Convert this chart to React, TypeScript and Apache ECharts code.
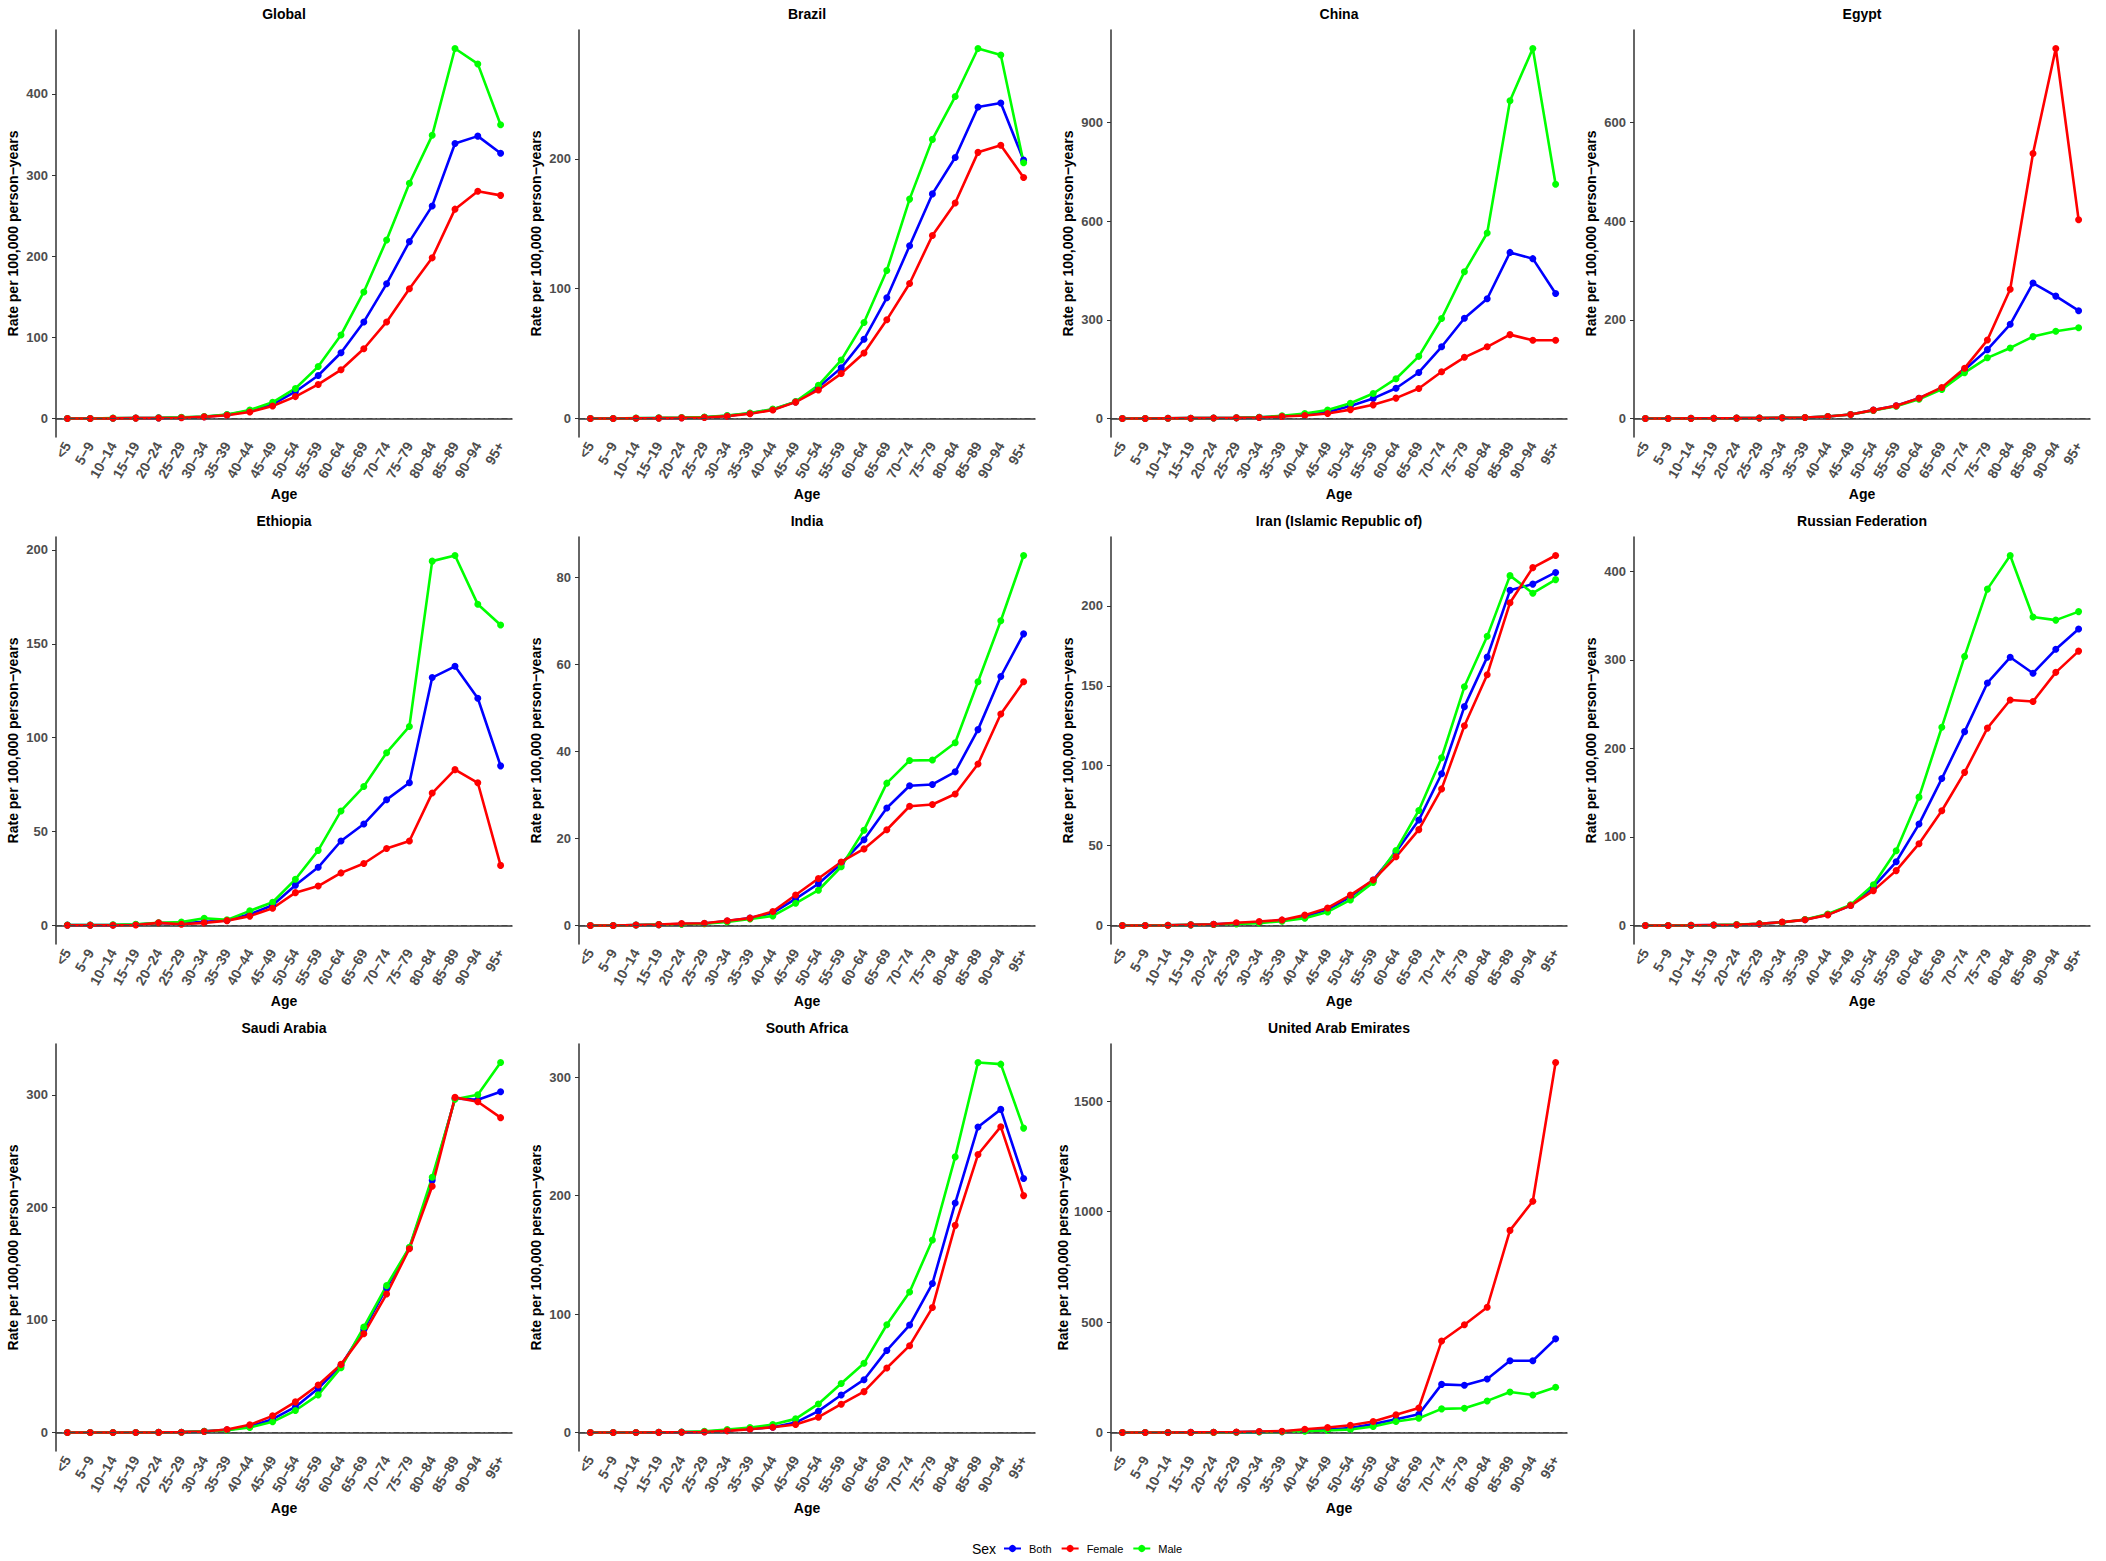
import { useEffect, useRef } from "react";
import * as echarts from "echarts";

const ageGroups = [
  "<5", "5-9", "10-14", "15-19", "20-24", "25-29", "30-34", "35-39", "40-44", "45-49",
  "50-54", "55-59", "60-64", "65-69", "70-74", "75-79", "80-84", "85-89", "90-94", "95+",
];

// Global
const globalBoth = [0, 0, 0.3, 0.6, 0.8, 1.2, 2.2, 4.5, 9.5, 17.5, 33, 53, 81, 119, 166, 218, 262, 339, 348, 327];
const globalFemale = [0, 0, 0.2, 0.5, 0.7, 1, 2, 4, 8, 15.5, 27, 42, 60, 86, 119, 160, 198, 258, 280, 275];
const globalMale = [0, 0, 0.5, 0.7, 1, 1.5, 2.5, 5, 10.5, 20, 37, 64, 103, 156, 220, 290, 349, 456, 437, 362];
const globalTicks = [0, 100, 200, 300, 400];

// Brazil
const brazilBoth = [0, 0, 0.2, 0.4, 0.6, 1, 2, 4, 7, 12.8, 24, 39, 61, 93, 133, 173, 201, 240, 243, 199];
const brazilFemale = [0, 0, 0.2, 0.3, 0.5, 0.8, 1.8, 3.6, 6.5, 12.6, 22, 34.6, 50.5, 76, 104, 141, 166, 205, 210.5, 185.6];
const brazilMale = [0, 0, 0.3, 0.5, 0.8, 1.2, 2.2, 4.2, 7.2, 13, 25.6, 45, 74, 114, 169, 215, 248, 285, 280, 197];
const brazilTicks = [0, 100, 200];

// China
const chinaBoth = [0, 0, 0.5, 1, 1.5, 2, 3.5, 7, 12, 20, 38, 61, 92, 140, 218, 305, 364, 505, 486, 380];
const chinaFemale = [0, 0, 0.5, 1, 1.5, 2, 3, 6, 9, 15, 27, 41.5, 62, 91, 142, 186, 218, 255, 238, 238];
const chinaMale = [0, 0, 0.5, 1, 1.5, 2, 4, 8, 15, 26, 46.5, 76, 121, 189, 304, 446, 564, 966, 1125, 712];
const chinaTicks = [0, 300, 600, 900];

// Egypt
const egyptBoth = [0, 0, 0.3, 0.5, 0.7, 1, 1.5, 2, 4, 8, 17, 26, 41, 61, 99, 139.6, 191, 274.5, 248, 218.5];
const egyptFemale = [0, 0, 0.3, 0.5, 0.7, 1, 1.5, 2, 4, 8, 17, 26, 41, 63, 102, 159, 262, 537, 750, 403];
const egyptMale = [0, 0, 0.3, 0.5, 0.7, 1, 1.5, 2, 4, 8, 16.5, 25, 39, 59, 93, 123, 143, 166, 177, 184];
const egyptTicks = [0, 200, 400, 600];

// Ethiopia
const ethiopiaBoth = [0.2, 0.2, 0.3, 0.5, 1.3, 1.2, 2, 2.7, 6, 10.8, 21.4, 31, 45, 54, 67, 76, 132, 138, 121, 85];
const ethiopiaFemale = [0.1, 0.1, 0.1, 0.3, 1.4, 0.7, 1.4, 2.6, 5, 9.2, 17.5, 21, 28, 33, 41, 45, 70.5, 83, 76, 32];
const ethiopiaMale = [0.3, 0.3, 0.4, 0.6, 1.4, 1.8, 3.9, 3, 7.8, 12.4, 24.6, 40, 61, 74, 92, 106, 194, 197, 171, 160];
const ethiopiaTicks = [0, 50, 100, 150, 200];

// India
const indiaBoth = [0, 0, 0.1, 0.2, 0.35, 0.45, 1, 1.7, 2.9, 6.1, 9.6, 14.2, 19.7, 27, 32.1, 32.4, 35.3, 45, 57.2, 67];
const indiaFemale = [0, 0, 0.1, 0.2, 0.45, 0.5, 1.1, 1.7, 3.2, 7, 10.8, 14.6, 17.6, 22, 27.4, 27.8, 30.2, 37.1, 48.6, 56];
const indiaMale = [0, 0, 0.1, 0.2, 0.3, 0.4, 0.8, 1.5, 2.2, 5.1, 8.1, 13.5, 21.9, 32.7, 37.9, 38, 42, 56, 70, 85];
const indiaTicks = [0, 20, 40, 60, 80];

// Iran
const iranBoth = [0, 0, 0.2, 0.4, 0.7, 1.3, 2, 3.2, 5.6, 10, 18, 28.5, 46, 66, 95, 137, 168, 209.8, 213.7, 221];
const iranFemale = [0, 0, 0.2, 0.5, 0.8, 1.7, 2.5, 3.5, 6.5, 11, 19, 28.5, 43, 60, 85.5, 125, 157, 202, 224, 231.6];
const iranMale = [0, 0, 0.2, 0.4, 0.6, 1, 1.5, 2.7, 4.6, 8.5, 16, 27, 47, 72, 105, 149.4, 181, 219, 208, 216.5];
const iranTicks = [0, 50, 100, 150, 200];

// Russian Federation
const russiaBoth = [0, 0, 0.2, 0.5, 0.8, 1.8, 3.7, 6.5, 12.5, 22.5, 43.6, 72, 114.6, 166, 219, 274, 303, 285, 312, 335];
const russiaFemale = [0, 0, 0.2, 0.5, 0.8, 1.8, 3.8, 6.4, 12, 22.5, 39.4, 62, 92.4, 129.6, 173, 223, 254.7, 253, 286, 310];
const russiaMale = [0, 0, 0.3, 0.6, 1, 2, 3.5, 6.7, 13, 23.3, 46, 84.5, 145, 224, 304, 380, 418, 348.5, 345, 354.6];
const russiaTicks = [0, 100, 200, 300, 400];

// Saudi Arabia
const saudiBoth = [0, 0, 0, 0, 0.1, 0.3, 1, 2.3, 5.3, 11.8, 22.7, 39, 59.6, 91.5, 128.5, 164, 224, 296.8, 295.6, 302.7];
const saudiFemale = [0, 0, 0, 0, 0.1, 0.3, 0.9, 2.7, 6.8, 14.8, 27.2, 42.2, 60.5, 87.7, 123, 163.3, 218.8, 297.7, 293.8, 279.7];
const saudiMale = [0, 0, 0, 0, 0.1, 0.3, 1, 2, 4.4, 9.5, 19.5, 33.4, 57.6, 93.6, 130.5, 164.5, 226.8, 296, 300, 328.7];
const saudiTicks = [0, 100, 200, 300];

// South Africa
const southAfricaBoth = [0, 0, 0, 0.1, 0.3, 0.6, 1.8, 3, 4.5, 8.4, 18, 31.7, 44.6, 69.3, 90.7, 125.8, 193.7, 258, 272.8, 214.5];
const southAfricaFemale = [0, 0, 0, 0.1, 0.2, 0.4, 1.4, 2.8, 4.5, 6.7, 12.9, 23.9, 34.5, 54.5, 73.3, 105.5, 174.9, 234.7, 258.2, 200];
const southAfricaMale = [0, 0, 0, 0.2, 0.4, 1, 2.5, 4.2, 6.7, 11.5, 24.1, 41.3, 58.4, 91, 118.7, 162.5, 232.7, 312.4, 311, 257];
const southAfricaTicks = [0, 100, 200, 300];

// United Arab Emirates
const uaeBoth = [0, 0, 0, 0.5, 1, 1.5, 3, 4, 9, 13.5, 20, 38, 60, 83, 218, 213.6, 242, 325, 325, 424];
const uaeFemale = [0, 0, 0, 0.5, 1, 2, 4.5, 6, 15, 22.6, 33, 50, 80, 111, 414, 487.5, 567, 915, 1047, 1675];
const uaeMale = [0, 0, 0, 0.3, 0.5, 1, 2, 3, 6, 9, 13.5, 27, 49.7, 64.7, 107, 110, 143, 183.6, 170, 204.6];
const uaeTicks = [0, 500, 1000, 1500];

const panels = [
  { title: "Global", both: globalBoth, female: globalFemale, male: globalMale, ticks: globalTicks },
  { title: "Brazil", both: brazilBoth, female: brazilFemale, male: brazilMale, ticks: brazilTicks },
  { title: "China", both: chinaBoth, female: chinaFemale, male: chinaMale, ticks: chinaTicks },
  { title: "Egypt", both: egyptBoth, female: egyptFemale, male: egyptMale, ticks: egyptTicks },
  { title: "Ethiopia", both: ethiopiaBoth, female: ethiopiaFemale, male: ethiopiaMale, ticks: ethiopiaTicks },
  { title: "India", both: indiaBoth, female: indiaFemale, male: indiaMale, ticks: indiaTicks },
  { title: "Iran (Islamic Republic of)", both: iranBoth, female: iranFemale, male: iranMale, ticks: iranTicks },
  { title: "Russian Federation", both: russiaBoth, female: russiaFemale, male: russiaMale, ticks: russiaTicks },
  { title: "Saudi Arabia", both: saudiBoth, female: saudiFemale, male: saudiMale, ticks: saudiTicks },
  { title: "South Africa", both: southAfricaBoth, female: southAfricaFemale, male: southAfricaMale, ticks: southAfricaTicks },
  { title: "United Arab Emirates", both: uaeBoth, female: uaeFemale, male: uaeMale, ticks: uaeTicks },
];

const FONT = '"Liberation Sans", Arial, Helvetica, sans-serif';
const colLeft = [56, 579, 1111, 1634];
const rowTop = [30, 537, 1044];
const plotW = 456;
const plotH = 407;

export default function App() {
  const ref = useRef<HTMLDivElement>(null);

  useEffect(() => {
    document.body.style.margin = "0";
    if (!ref.current) return;
    const chart = echarts.init(ref.current, undefined, { renderer: "svg" });

    const grids: any[] = [];
    const xAxes: any[] = [];
    const yAxes: any[] = [];
    const titles: any[] = [];
    const series: any[] = [];

    panels.forEach((p, i) => {
      const left = colLeft[i % 4];
      const top = rowTop[Math.floor(i / 4)];
      const max = Math.max(...p.both, ...p.female, ...p.male);

      grids.push({ left, top, width: plotW, height: plotH, containLabel: false });
      titles.push({
        text: p.title,
        left: left + plotW / 2,
        top: top - 23,
        textAlign: "center",
        padding: 0,
        textStyle: { fontSize: 14, fontWeight: "bold", color: "#000", fontFamily: FONT },
      });
      xAxes.push({
        type: "category",
        gridIndex: i,
        data: ageGroups,
        boundaryGap: true,
        name: "Age",
        nameLocation: "middle",
        nameGap: 50,
        nameTextStyle: { fontSize: 14, fontWeight: "bold", color: "#000", fontFamily: FONT },
        axisLine: { lineStyle: { color: "#333", width: 1.5 } },
        axisTick: { alignWithLabel: true, length: 4, lineStyle: { color: "#333" } },
        axisLabel: {
          interval: 0,
          rotate: 60,
          margin: 6,
          fontSize: 14,
          fontWeight: "bold",
          color: "#4d4d4d",
          fontFamily: FONT,
          formatter: (v: string) => v.replace("-", "\u2212"),
        },
        splitLine: { show: false },
      });
      yAxes.push({
        type: "value",
        gridIndex: i,
        min: -0.05 * max,
        max: 1.05 * max,
        name: "Rate per 100,000 person\u2212years",
        nameLocation: "middle",
        nameRotate: 90,
        nameGap: 36,
        nameTextStyle: { fontSize: 14, fontWeight: "bold", color: "#000", fontFamily: FONT },
        axisLine: { show: true, lineStyle: { color: "#333", width: 1.5 } },
        axisTick: { show: true, length: 4, customValues: p.ticks, lineStyle: { color: "#333" } },
        axisLabel: {
          customValues: p.ticks,
          margin: 8,
          fontSize: 13,
          fontWeight: "bold",
          color: "#4d4d4d",
          fontFamily: FONT,
          formatter: (v: number) => String(v),
        },
        splitLine: { show: false },
      });

      const common = {
        type: "line",
        xAxisIndex: i,
        yAxisIndex: i,
        symbol: "circle",
        symbolSize: 7,
      };
      series.push({
        ...common,
        name: "Both",
        data: p.both,
        itemStyle: { color: "#0000FF" },
        lineStyle: { width: 2.6, color: "#0000FF" },
        markLine: {
          silent: true,
          symbol: "none",
          label: { show: false },
          lineStyle: { color: "#444", width: 1, type: [6, 3, 1.5, 3] },
          data: [{ yAxis: 0 }],
        },
      });
      series.push({
        ...common,
        name: "Male",
        data: p.male,
        itemStyle: { color: "#00FF00" },
        lineStyle: { width: 2.6, color: "#00FF00" },
      });
      series.push({
        ...common,
        name: "Female",
        data: p.female,
        itemStyle: { color: "#FF0000" },
        lineStyle: { width: 2.6, color: "#FF0000" },
      });
    });

    chart.setOption({
      animation: false,
      backgroundColor: "#fff",
      textStyle: { fontFamily: FONT },
      title: titles,
      grid: grids,
      xAxis: xAxes,
      yAxis: yAxes,
      legend: {
        data: ["Both", "Female", "Male"],
        left: 1003,
        top: 1543,
        itemWidth: 17,
        itemHeight: 9,
        itemGap: 9,
        padding: 0,
        textStyle: { fontSize: 11, color: "#000", fontFamily: FONT, padding: [0, 0, 0, 3] },
      },
      graphic: [
        {
          type: "text",
          x: 972,
          y: 1549,
          style: {
            text: "Sex",
            fontSize: 14,
            fontFamily: FONT,
            fill: "#000",
            verticalAlign: "middle",
          },
        },
      ],
      series,
    });

    return () => {
      chart.dispose();
    };
  }, []);

  return <div ref={ref} style={{ width: 2106, height: 1561 }} />;
}
